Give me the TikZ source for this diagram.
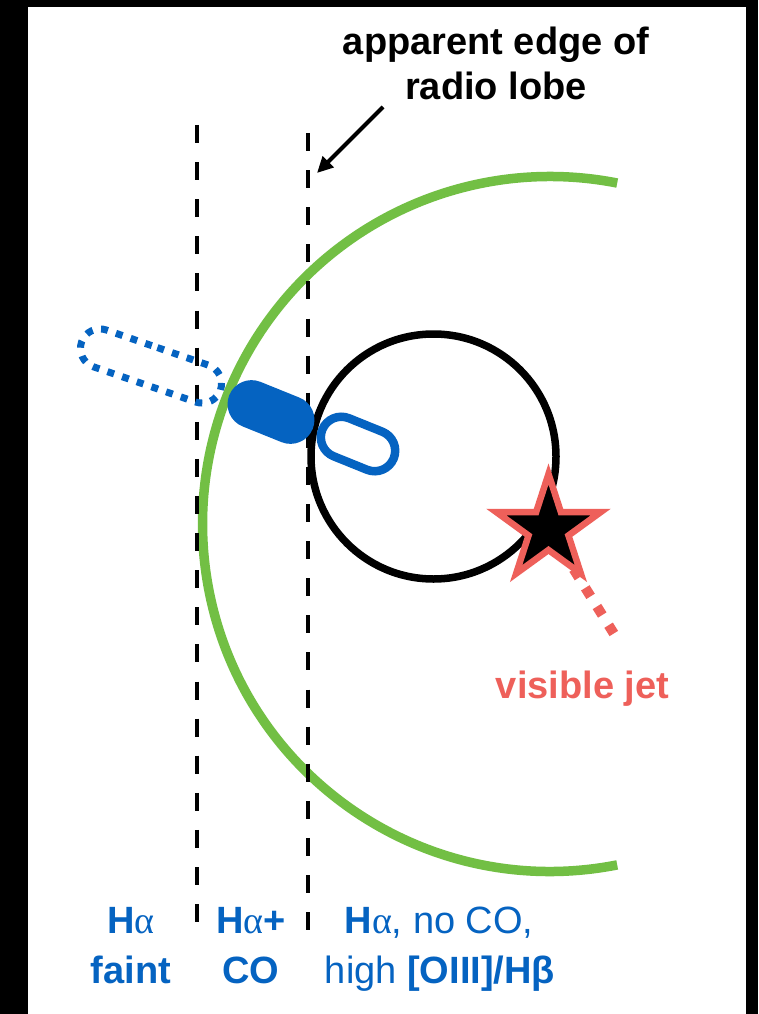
\documentclass[tikz,border=0pt]{standalone}
\usepackage{fontspec}
\setmainfont{Liberation Sans}
\newfontfamily\greekserif{Liberation Serif}
\usetikzlibrary{shapes.geometric,shapes.misc,arrows.meta}
\definecolor{lobegreen}{HTML}{72BF44}
\definecolor{gasblue}{HTML}{0563C1}
\definecolor{jetred}{HTML}{EE605A}
\newcommand{\alp}{{\greekserif\mdseries α}}
\begin{document}
\begin{tikzpicture}[x=1pt,y=-1pt,
  dashline/.style={line width=4pt, dash pattern=on 18pt off 19.1pt},
  bigtext/.style={font=\fontsize{38}{45}\selectfont\bfseries, inner sep=0pt, anchor=base},
  stadium/.style={rounded rectangle, inner sep=0pt, outer sep=0pt},
]
% background and frame
\fill[black] (0,0) rectangle (758,1014);
\fill[white] (28,7) rectangle (746,1014);
\useasboundingbox (0,0) rectangle (758,1014);

% radio lobe (green arc)
\draw[lobegreen, line width=9.5pt] (617.2,864.9) arc[start angle=78.85, end angle=281.15, radius=347.5];

% black circle
\draw[line width=7.5pt] (433.5,456.5) circle[radius=122.5];

% dashed lines
\coordinate (d1top) at (197,125);
\coordinate (d1bot) at (197,923);
\coordinate (d2top) at (308,133);
\coordinate (d2bot) at (308,931);
\draw[dashline] (d1top) -- (d1bot);
\draw[dashline] (d2top) -- (d2bot);

% gas clouds
\node[stadium, draw=gasblue, line width=7pt, dash pattern=on 7pt off 8.5pt,
      minimum width=147pt, minimum height=39pt, rotate=-19] (ghost) at (151,366) {};
\node[stadium, fill=gasblue, minimum width=90pt, minimum height=48pt, rotate=-22] (cloud) at (271,412) {};
\node[stadium, draw=gasblue, line width=8.5pt, minimum width=77pt, minimum height=41pt, rotate=-22] (inner) at (358,444) {};

% jet and star
\coordinate (jetstart) at (550.3,531.9);
\coordinate (jetend) at (613.8,633.5);
\draw[jetred, line width=10pt, dash pattern=on 10pt off 12pt] (jetstart) -- (jetend);
\node[star, star points=5, star point ratio=2.618, minimum size=110pt, inner sep=0pt,
      draw=jetred, fill=black, line width=6.5pt] (core) at (548.5,529) {};

% title and arrow
\node[bigtext] (title1) at (496,55) {apparent edge of};
\node[bigtext] (title2) at (496,100) {radio lobe};
\coordinate (arrowstart) at (383,107);
\coordinate (arrowtip) at (317,173);
\draw[line width=4pt, -{Triangle[length=16pt,width=15pt]}] (arrowstart) -- (arrowtip);

% labels
\node[bigtext, text=jetred] (jetlabel) at (582.5,698) {visible jet};
\node[bigtext, text=gasblue] (lab1a) at (131,933) {H\alp};
\node[bigtext, text=gasblue] (lab1b) at (131,983) {faint};
\node[bigtext, text=gasblue] (lab2a) at (251,933) {H\alp+};
\node[bigtext, text=gasblue] (lab2b) at (251,983) {CO};
\node[bigtext, text=gasblue] (lab3a) at (439,933) {H\alp{\mdseries, no CO,}};
\node[bigtext, text=gasblue] (lab3b) at (440,983) {{\mdseries high }[OIII]/Hβ};
\end{tikzpicture}
\end{document}
